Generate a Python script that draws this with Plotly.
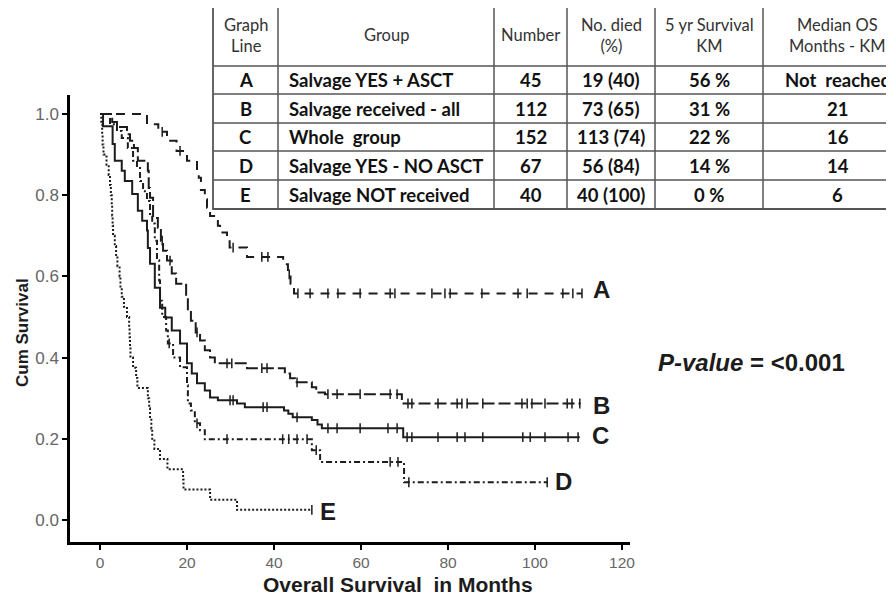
import plotly.graph_objects as go

# ---------------- data ----------------
A_t = [0, 10.8, 13.4, 15.4, 17.6, 20.0, 22.3, 22.7, 23.2, 24.1, 24.6, 25.3, 27.1, 27.6, 29.2, 29.8, 33.8, 42.1, 43.2, 43.8, 44.6]
A_s = [1.0, 0.975, 0.956, 0.934, 0.909, 0.885, 0.862, 0.843, 0.813, 0.79, 0.769, 0.749, 0.725, 0.708, 0.69, 0.671, 0.648, 0.63, 0.605, 0.582, 0.558]
A_end = 110.8
A_cens = [14.3, 18.4, 30.6, 37.2, 38.6, 43.5, 45.5, 48.3, 52.4, 54.7, 59.8, 66.7, 67.8, 76.3, 79.3, 80.5, 87.8, 96.1, 98.2, 106.4, 108.7, 110.8]

B_t = [0, 2.8, 3.9, 6.2, 6.9, 7.8, 8.7, 11.0, 11.2, 11.5, 12.2, 13.3, 14.0, 14.5, 15.4, 16.5, 17.5, 19.8, 20.2, 20.9, 22.0, 23.0, 24.1, 25.3, 26.4, 33.8, 42.5, 43.7, 44.8, 48.7, 49.7, 51.7, 69.4]
B_s = [1.0, 0.98, 0.968, 0.95, 0.934, 0.916, 0.885, 0.86, 0.818, 0.794, 0.744, 0.72, 0.688, 0.663, 0.639, 0.607, 0.582, 0.548, 0.516, 0.491, 0.462, 0.442, 0.418, 0.40, 0.386, 0.374, 0.361, 0.349, 0.339, 0.327, 0.314, 0.31, 0.287]
B_end = 110.5
B_cens = [14.3, 16.1, 22.3, 29.2, 30.3, 37.2, 38.4, 45.3, 52.4, 54.5, 59.8, 66.7, 68.3, 70.8, 71.7, 77.7, 82.1, 83.2, 84.4, 88.0, 97.0, 98.2, 99.3, 102.3, 107.4, 108.5, 110.3]

C_t = [0, 0.7, 2.9, 3.4, 5.0, 5.7, 7.4, 8.7, 9.7, 10.8, 11.0, 11.5, 12.6, 13.8, 15.0, 16.5, 18.4, 20.0, 21.1, 22.3, 24.1, 25.3, 27.1, 31.5, 33.3, 42.3, 43.3, 44.3, 48.7, 50.0, 51.0, 69.7]
C_s = [1.0, 0.97, 0.926, 0.885, 0.86, 0.835, 0.803, 0.762, 0.737, 0.713, 0.67, 0.631, 0.572, 0.523, 0.499, 0.467, 0.435, 0.386, 0.361, 0.337, 0.319, 0.302, 0.295, 0.287, 0.278, 0.27, 0.262, 0.253, 0.246, 0.235, 0.226, 0.204]
C_end = 110.3
C_cens = [29.9, 30.6, 37.5, 38.4, 45.3, 52.4, 54.5, 59.8, 66.2, 68.3, 70.6, 71.7, 77.7, 82.1, 83.9, 88.0, 97.2, 98.9, 102.3, 107.6, 109.9]

D_t = [0, 2.3, 3.9, 5.0, 6.4, 7.6, 8.5, 9.2, 9.9, 10.8, 11.5, 12.0, 12.6, 13.1, 13.6, 13.8, 14.3, 15.2, 15.6, 16.8, 18.4, 20.0, 20.2, 20.9, 21.8, 23.0, 24.1, 48.7, 50.6, 69.9]
D_s = [1.0, 0.975, 0.958, 0.941, 0.916, 0.885, 0.867, 0.835, 0.81, 0.786, 0.754, 0.73, 0.688, 0.64, 0.59, 0.54, 0.5, 0.467, 0.435, 0.40, 0.376, 0.332, 0.287, 0.27, 0.238, 0.221, 0.199, 0.172, 0.143, 0.093]
D_end = 102.8
D_cens = [15.9, 22.3, 29.2, 42.0, 43.4, 45.3, 47.6, 49.7, 66.7, 68.5, 71.0, 102.8]

E_t = [0, 0.3, 0.5, 0.6, 0.8, 1.5, 2.0, 2.3, 2.5, 2.7, 2.8, 2.9, 3.0, 3.4, 3.7, 4.0, 4.5, 4.7, 5.0, 5.5, 6.2,
       6.7, 6.8, 6.9, 7.0, 7.6, 8.3, 8.6, 11.0, 11.3, 11.5, 11.8, 12.0, 12.5, 13.8, 15.5, 19.1, 19.2, 25.3, 31.5]
E_s = [1.0, 0.975, 0.95, 0.925, 0.9, 0.875, 0.85, 0.825, 0.8, 0.775, 0.75, 0.725, 0.7, 0.675, 0.65, 0.625, 0.6, 0.575, 0.55, 0.525, 0.5,
       0.475, 0.45, 0.425, 0.4, 0.375, 0.35, 0.325, 0.3, 0.275, 0.25, 0.225, 0.2, 0.175, 0.15, 0.125, 0.1, 0.075, 0.05, 0.025]
E_end = 48.7
E_cens = [48.7]

curve_labels = ["A", "B", "C", "D", "E"]

x_ticks = [0, 20, 40, 60, 80, 100, 120]
y_ticks = [0.0, 0.2, 0.4, 0.6, 0.8, 1.0]

table_header = ["Graph<br>Line", "Group", "Number", "No. died<br>(%)", "5 yr Survival<br>KM", "Median OS<br>Months - KM"]
table_line = ["A", "B", "C", "D", "E"]
table_group = ["Salvage YES + ASCT", "Salvage received - all", "Whole  group", "Salvage YES - NO ASCT", "Salvage NOT received"]
table_number = ["45", "112", "152", "67", "40"]
table_died = ["19 (40)", "73 (65)", "113 (74)", "56 (84)", "40 (100)"]
table_5yr = ["56 %", "31 %", "22 %", "14 %", "0 %"]
table_median = ["Not  reached", "21", "16", "14", "6"]

p_text = "<b><i>P-value</i> = &lt;0.001</b>"

# ---------------- layout geometry ----------------
OFF = 8                      # page body margin offset
W, H = 894 - OFF, 598 - OFF
ML, MT = 70 - OFF, 95 - OFF
PR, PB = 630 - OFF, 542 - OFF
MR, MB = W - PR, H - PB
PW, PH = W - ML - MR, H - MT - MB


def pxx(px):
    return (px - OFF - ML) / PW


def pyy(py):
    return (H - MB - (py - OFF)) / PH


INK = "#1c1c1c"
curves = [
    (A_t, A_s, A_end, A_cens, "9px,7px"),
    (B_t, B_s, B_end, B_cens, "12px,4px"),
    (C_t, C_s, C_end, C_cens, "solid"),
    (D_t, D_s, D_end, D_cens, "6px,3px,2px,3px"),
    (E_t, E_s, E_end, E_cens, "2px,2px"),
]


def surv_at(t, ts, ss):
    v = ss[0]
    for ti, si in zip(ts, ss):
        if ti <= t:
            v = si
    return v


fig = go.Figure()
for ts, ss, tend, cens, dash in curves:
    fig.add_trace(go.Scatter(
        x=list(ts) + [tend], y=list(ss) + [ss[-1]],
        mode="lines", line=dict(shape="hv", color=INK, width=2, dash=dash),
        showlegend=False, hoverinfo="skip"))
    fig.add_trace(go.Scatter(
        x=cens, y=[surv_at(c, ts, ss) for c in cens], mode="markers",
        marker=dict(symbol="line-ns-open", size=7, color=INK, line=dict(color=INK, width=1.5)),
        showlegend=False, hoverinfo="skip"))

# curve letters (data coords)
label_pos = [(115.4, 0.567), (115.4, 0.283), (115.0, 0.207), (106.5, 0.095), (52.5, 0.02)]
for lab, (lx, ly) in zip(curve_labels, label_pos):
    fig.add_annotation(x=lx, y=ly, xref="x", yref="y", text="<b>%s</b>" % lab, showarrow=False,
                       font=dict(family="Liberation Sans, Arial", size=24, color=INK), xanchor="center", yanchor="middle")

# p-value
fig.add_annotation(x=pxx(752), y=pyy(362), xref="paper", yref="paper", text=p_text, showarrow=False,
                   font=dict(family="Liberation Sans, Arial", size=24, color=INK), xanchor="center", yanchor="middle")

# axis titles
fig.add_annotation(x=pxx(398), y=pyy(584), xref="paper", yref="paper", text="<b>Overall Survival  in Months</b>",
                   showarrow=False, font=dict(family="Liberation Sans, Arial", size=21, color=INK),
                   xanchor="center", yanchor="middle")
fig.add_annotation(x=pxx(22), y=pyy(333), xref="paper", yref="paper", text="<b>Cum Survival</b>", textangle=-90,
                   showarrow=False, font=dict(family="Liberation Sans, Arial", size=17, color=INK),
                   xanchor="center", yanchor="middle")

# ---------------- table ----------------
col_px = [213, 278, 494, 567, 655, 763, 912]
row_py = [5, 66, 94, 123, 151, 180, 209]
TC = "#555555"
fig.add_shape(type="rect", xref="paper", yref="paper", x0=pxx(col_px[0]), x1=pxx(col_px[-1]),
              y0=pyy(row_py[-1]), y1=pyy(row_py[0]), fillcolor="white", line=dict(color=TC, width=1.8), layer="above")
for cx in col_px[1:-1]:
    fig.add_shape(type="line", xref="paper", yref="paper", x0=pxx(cx), x1=pxx(cx),
                  y0=pyy(row_py[-1]), y1=pyy(row_py[0]), line=dict(color=TC, width=1.5), layer="above")
for ry in row_py[1:-1]:
    fig.add_shape(type="line", xref="paper", yref="paper", x0=pxx(col_px[0]), x1=pxx(col_px[-1]),
                  y0=pyy(ry), y1=pyy(ry), line=dict(color=TC, width=1.5), layer="above")

TF = "Lato, Carlito, Open Sans, sans-serif"
for i, h in enumerate(table_header):
    cx = (col_px[i] + col_px[i + 1]) / 2
    cy = (row_py[0] + row_py[1]) / 2
    fig.add_annotation(x=pxx(cx), y=pyy(cy), xref="paper", yref="paper", text=h, showarrow=False,
                       font=dict(family=TF, size=16.5, color="#333"), xanchor="center", yanchor="middle",
                       align="center")

columns = [table_line, table_group, table_number, table_died, table_5yr, table_median]
for ci, col in enumerate(columns):
    for ri, val in enumerate(col):
        cy = (row_py[ri + 1] + row_py[ri + 2]) / 2
        if ci == 1:
            x, xa = pxx(col_px[1] + 9), "left"
        else:
            x, xa = pxx((col_px[ci] + col_px[ci + 1]) / 2), "center"
        fig.add_annotation(x=x, y=pyy(cy), xref="paper", yref="paper", text="<b>%s</b>" % val, showarrow=False,
                           font=dict(family=TF, size=18.5, color="#111"), xanchor=xa, yanchor="middle")

fig.update_layout(
    width=W, height=H,
    margin=dict(l=ML, r=MR, t=MT, b=MB),
    paper_bgcolor="white", plot_bgcolor="white",
    xaxis=dict(range=[(70 - 100) / 4.35, (630 - 100) / 4.35], tickvals=x_ticks, ticks="outside",
               ticklen=5, tickwidth=1.5, tickcolor="black", showline=True, linecolor="black", linewidth=2.5,
               showgrid=False, zeroline=False,
               tickfont=dict(family="Liberation Sans, Arial", size=15.5, color="#666")),
    yaxis=dict(range=[-22 / 406, 1 + 19 / 406], tickvals=y_ticks, tickformat=".1f", ticks="outside",
               ticklen=5, tickwidth=1.5, tickcolor="black", showline=True, linecolor="black", linewidth=2.5,
               showgrid=False, zeroline=False,
               tickfont=dict(family="Liberation Sans, Arial", size=17, color="#666")),
)

fig.write_html("out.html")
